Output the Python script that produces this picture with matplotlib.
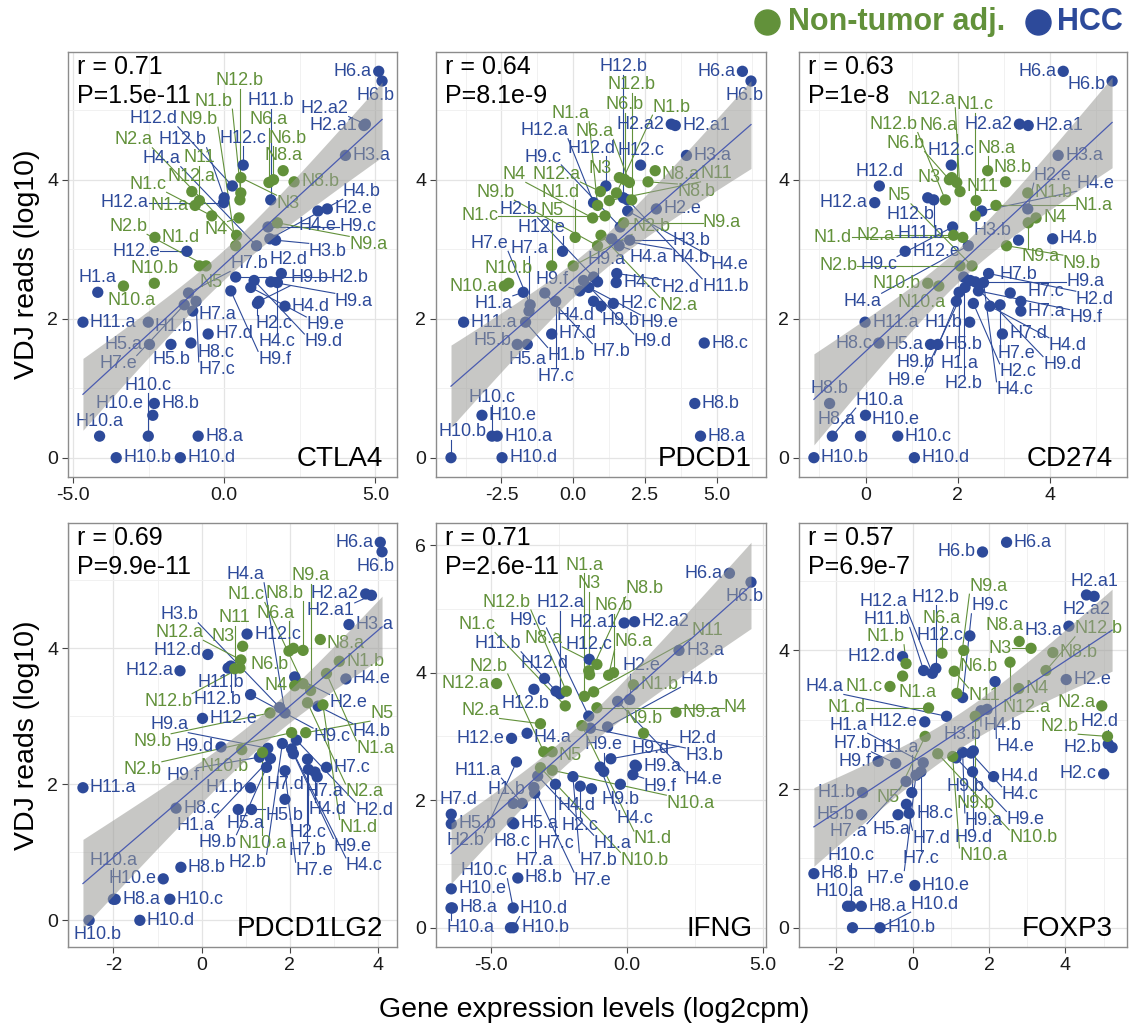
import numpy as np
import matplotlib
matplotlib.use('Agg')
import matplotlib.pyplot as plt
from matplotlib.lines import Line2D

plt.rcParams['font.family'] = ['Liberation Sans', 'DejaVu Sans']
plt.rcParams['axes.unicode_minus'] = False

# samples (HCC = H*, non-tumor adjacent = N*)
samples = ['H1.a', 'H1.b', 'H2.a1', 'H2.a2', 'H2.b', 'H2.c', 'H2.d', 'H2.e', 'H3.a', 'H3.b',
           'H4.a', 'H4.b', 'H4.c', 'H4.d', 'H4.e', 'H5.a', 'H5.b', 'H6.a', 'H6.b', 'H7.a',
           'H7.b', 'H7.c', 'H7.d', 'H7.e', 'H8.a', 'H8.b', 'H8.c', 'H9.a', 'H9.b', 'H9.c',
           'H9.d', 'H9.e', 'H9.f', 'H10.a', 'H10.b', 'H10.c', 'H10.d', 'H10.e', 'H11.a', 'H11.b',
           'H12.a', 'H12.b', 'H12.c', 'H12.d', 'H12.e',
           'N1.a', 'N1.b', 'N1.c', 'N1.d', 'N2.a', 'N2.b', 'N3', 'N4', 'N5', 'N6.a',
           'N6.b', 'N8.a', 'N8.b', 'N9.a', 'N9.b', 'N10.a', 'N10.b', 'N11', 'N12.a', 'N12.b']

# VDJ reads (log10), same for every gene
vdj = [2.38, 1.95, 4.78, 4.80, 2.60, 2.22, 2.65, 3.58, 4.35, 3.13,
       3.05, 3.15, 2.52, 2.18, 3.55, 1.63, 1.63, 5.56, 5.42, 2.11,
       2.37, 2.25, 1.78, 2.20, 0.31, 0.78, 1.65, 2.53, 2.25, 3.32,
       2.55, 2.45, 2.40, 0.31, 0.00, 0.31, 0.00, 0.61, 1.95, 3.71,
       3.67, 3.74, 4.21, 3.91, 2.97,
       3.63, 3.81, 3.48, 3.17, 3.20, 2.76, 4.03, 3.45, 2.76, 3.96,
       4.00, 4.13, 3.97, 3.38, 3.05, 2.47, 2.51, 3.70, 3.83, 3.71]

# gene expression levels (log2cpm)
ctla4 = [-4.18, -2.51, 4.62, 4.67, 0.38, 1.10, 1.89, 3.41, 4.01, 1.70,
         1.07, 1.51, 1.76, 2.01, 3.10, -2.47, -1.76, 5.11, 5.22, -1.04,
         -1.18, -0.93, -0.53, -1.32, -0.86, -2.31, -1.10, 1.54, 1.15, 1.45,
         0.99, 0.88, 0.22, -4.12, -3.57, -2.51, -1.45, -2.36, -4.67, 1.54,
         -0.02, 0.00, 0.63, 0.27, -1.23,
         -0.96, 0.55, -0.41, -2.29, 0.41, -0.60, 0.55, 0.49, -0.82, 1.48,
         1.63, 1.95, 2.31, 1.76, 0.38, -3.33, -2.31, -0.82, -1.07, 0.52]
pdcd1 = [-1.74, -1.66, 3.56, 3.42, 0.71, 1.40, 1.52, 2.90, 3.95, 1.97,
         1.60, 1.34, 1.50, 0.97, 1.90, -1.60, -1.95, 5.90, 6.20, -1.54,
         -0.99, -0.61, -0.75, -1.50, 4.44, 4.24, 4.57, 0.85, 0.71, 1.64,
         0.36, 0.54, 0.23, -2.65, -4.26, -2.83, -2.48, -3.18, -3.82, 1.90,
         0.71, 1.75, 2.35, 1.14, -0.37,
         0.85, 1.51, 1.11, 0.07, 0.97, 0.00, 1.61, 0.68, -0.75, 1.96,
         1.80, 2.86, 2.61, 1.76, 0.85, -2.40, -2.25, 1.26, 0.95, 2.04]
cd274 = [2.03, 2.26, 3.53, 3.34, 2.13, 2.34, 2.67, 3.52, 4.18, 3.32,
         2.23, 4.06, 2.56, 2.70, 2.52, 1.41, 1.57, 4.29, 5.35, 3.37,
         3.14, 3.37, 2.97, 2.92, -0.11, -0.78, 0.29, 2.38, 1.97, 1.89,
         2.27, 2.16, 2.45, -0.72, -1.12, 0.70, 1.06, 0.00, -0.01, 1.48,
         0.20, 1.35, 1.86, 0.30, 0.86,
         2.83, 3.52, 2.38, 2.11, 1.91, 2.05, 1.87, 3.70, 2.31, 1.98,
         1.82, 2.65, 3.04, 3.53, 3.06, 1.59, 1.35, 2.40, 2.05, 1.73]
pdcd1lg2 = [1.56, 1.11, 3.85, 3.72, 1.83, 2.42, 2.15, 2.11, 3.34, 1.77,
            1.89, 2.64, 2.04, 2.57, 3.27, 0.83, 1.13, 4.05, 4.09, 2.62,
            2.40, 2.83, 1.89, 1.89, -1.96, -0.47, -0.58, 1.50, 1.47, 1.11,
            0.44, 2.08, 1.31, -2.00, -2.55, -0.72, -1.40, -0.87, -2.69, 0.60,
            -0.49, 0.66, 1.03, 0.14, 0.02,
            2.83, 3.12, 2.30, 2.75, 2.40, 2.04, 0.93, 2.11, 2.36, 1.98,
            2.08, 2.69, 2.30, 2.47, 1.55, 1.38, 0.91, 0.75, 0.89, 0.87]
ifng = [-3.27, -4.17, -0.10, 0.28, -4.05, -1.71, -0.59, 0.10, 1.91, -1.34,
        -3.66, -0.71, -0.98, -1.30, -0.34, -4.15, -6.44, 3.76, 4.55, -3.38,
        -1.98, -2.62, -6.44, -3.41, -6.40, -4.00, -4.20, 0.35, -0.24, -1.40,
        0.30, -0.85, 0.22, -6.45, -4.27, -4.17, -4.17, -6.44, -3.84, -2.60,
        -2.45, -3.41, -1.38, -3.02, -4.23,
        -1.56, 0.24, -2.26, -1.65, -3.17, -3.05, -1.40, -1.10, -2.74, -0.67,
        -0.49, -1.10, -1.37, 1.80, 0.61, -2.74, -3.17, -1.22, -4.78, -2.22]
foxp3 = [0.28, -1.31, 4.75, 4.55, 5.22, 5.00, 5.12, 4.02, 4.09, 1.79,
         0.89, 1.95, 1.53, 2.12, 2.16, -0.38, -1.33, 2.46, 1.83, -0.17,
         -0.44, 0.22, -0.16, 0.09, -1.34, -2.58, -0.09, 1.31, 1.57, 1.31,
         1.59, 1.14, -0.90, -1.70, -1.57, -1.62, -0.85, 0.06, -0.02, 0.29,
         0.52, 0.61, 1.50, -0.26, 0.32,
         -0.26, -0.17, -0.59, 0.42, 4.95, 5.10, 3.10, 2.78, 0.33, 0.77,
         1.34, 2.79, 3.67, 1.16, 1.64, 1.05, 0.66, 1.09, 2.55, 3.49]

genes = ['CTLA4', 'PDCD1', 'CD274', 'PDCD1LG2', 'IFNG', 'FOXP3']
r_vals = ['0.71', '0.64', '0.63', '0.69', '0.71', '0.57']
p_vals = ['1.5e-11', '8.1e-9', '1e-8', '9.9e-11', '2.6e-11', '6.9e-7']
expr = [ctla4, pdcd1, cd274, pdcd1lg2, ifng, foxp3]

GREEN = '#62913a'
BLUE = '#2d4a9a'
W, H = 1129, 1028
LABEL_FS = 13


def lm_band(x, y):
    n = len(x)
    b, a = np.polyfit(x, y, 1)
    xg = np.linspace(x.min(), x.max(), 80)
    yg = a + b * xg
    s = np.sqrt(((y - (a + b * x)) ** 2).sum() / (n - 2))
    sxx = ((x - x.mean()) ** 2).sum()
    se = s * np.sqrt(1 / n + (xg - x.mean()) ** 2 / sxx)
    return xg, yg, yg - 1.998 * se, yg + 1.998 * se


def place_labels(ax, xs, ys, texts, fs, blocked):
    # greedy label placement: nearest free spot around each point
    fig = ax.figure
    rend = fig.canvas.get_renderer()
    pts = ax.transData.transform(np.column_stack([xs, ys]))
    px, py = pts[:, 0], pts[:, 1]
    n = len(texts)
    w = np.zeros(n)
    h = np.zeros(n)
    for i, s in enumerate(texts):
        t = fig.text(0, 0, s, fontsize=fs)
        bb = t.get_window_extent(rend)
        w[i], h[i] = bb.width, bb.height * 0.93
        t.remove()
    box = ax.get_window_extent(rend)
    angs = np.deg2rad([0, 180, 90, 270, 30, 150, 210, 330, 60, 120, 240, 300,
                       15, 165, 195, 345, 45, 135, 225, 315, 75, 105, 255, 285])
    ds = np.arange(0, 420, 4)
    D, A = np.meshgrid(ds, angs, indexing='ij')
    D, A = D.ravel(), A.ravel()
    rpt = 5.5
    dist = np.hypot(px[:, None] - px[None, :], py[:, None] - py[None, :])
    crowd = (dist < 45).sum(1)
    order = np.lexsort((np.arange(n), crowd))
    placed = [list(b) for b in blocked]
    cx = np.zeros(n)
    cy = np.zeros(n)
    for i in order:
        ccx = px[i] + np.cos(A) * (w[i] / 2 + 7 + D)
        ccy = py[i] + np.sin(A) * (h[i] / 2 + 7 + D)
        inside = ((ccx - w[i] / 2 > box.x0 + 2) & (ccx + w[i] / 2 < box.x1 - 2) &
                  (ccy - h[i] / 2 > box.y0 + 2) & (ccy + h[i] / 2 < box.y1 - 2))
        pb = np.array(placed)
        hit = ((ccx[:, None] + w[i] / 2 + 1 > pb[None, :, 0]) &
               (ccx[:, None] - w[i] / 2 - 1 < pb[None, :, 1]) &
               (ccy[:, None] + h[i] / 2 + 1 > pb[None, :, 2]) &
               (ccy[:, None] - h[i] / 2 - 1 < pb[None, :, 3])).sum(1)
        hitp = ((np.abs(ccx[:, None] - px[None, :]) < w[i] / 2 + rpt) &
                (np.abs(ccy[:, None] - py[None, :]) < h[i] / 2 + rpt)).sum(1)
        cost = hit * 1000 + hitp * 50 + (~inside) * 100000 + np.arange(len(D)) * 1e-3
        j = np.argmin(cost)
        cx[i], cy[i] = ccx[j], ccy[j]
        placed.append([cx[i] - w[i] / 2, cx[i] + w[i] / 2, cy[i] - h[i] / 2, cy[i] + h[i] / 2])
    return px, py, cx, cy, w, h


fig = plt.figure(figsize=(W / 100, H / 100), dpi=100)
cols_px = [(68, 397), (436, 766), (799, 1127)]
rows_px = [(52, 477), (523, 947)]
xticks = [[-5, 0, 5], [-2.5, 0, 2.5, 5], [0, 2, 4], [-2, 0, 2, 4], [-5, 0, 5], [-2, 0, 2, 4]]
xfmt = ['%.1f', '%.1f', '%d', '%d', '%.1f', '%d']

yv = np.array(vdj)
is_h = np.array([s.startswith('H') for s in samples])
colors = np.where(is_h, BLUE, GREEN)
rend = fig.canvas.get_renderer()

for g in range(6):
    r, c = divmod(g, 3)
    x0, x1 = cols_px[c]
    y0, y1 = rows_px[r]
    ax = fig.add_axes([x0 / W, 1 - y1 / H, (x1 - x0) / W, (y1 - y0) / H])
    xv = np.array(expr[g])
    xg, yg, lo, hi = lm_band(xv, yv)
    xr = xv.max() - xv.min()
    xlim = (xv.min() - 0.05 * xr, xv.max() + 0.05 * xr)
    ymin = min(yv.min(), lo.min())
    ymax = max(yv.max(), hi.max())
    yr = ymax - ymin
    ylim = (ymin - 0.05 * yr, ymax + 0.05 * yr)

    xt = xticks[g]
    step = xt[1] - xt[0]
    ax.set_xticks(xt)
    ax.set_xticklabels([xfmt[g] % v for v in xt])
    ax.set_xticks([v - step / 2 for v in xt] + [xt[-1] + step / 2], minor=True)
    yt = [v for v in [0, 2, 4, 6] if v <= ylim[1]]
    ax.set_yticks(yt)
    ax.set_yticks([v + 1 for v in yt] + [-1], minor=True)
    ax.set_xlim(*xlim)
    ax.set_ylim(*ylim)
    ax.grid(True, which='major', color='#e4e4e4', lw=0.9)
    ax.grid(True, which='minor', color='#f1f1f1', lw=0.7)
    ax.set_axisbelow(True)
    ax.tick_params(which='major', direction='out', length=4, width=0.8, color='#444444',
                   labelsize=14, labelcolor='#1a1a1a', pad=3)
    ax.tick_params(which='minor', length=0)
    for sp in ax.spines.values():
        sp.set_color('#8c8c8c')
        sp.set_linewidth(1.0)

    t1 = ax.text(0.026, 0.993, 'r = ' + r_vals[g], transform=ax.transAxes, fontsize=18,
                 va='top', ha='left', zorder=6)
    t2 = ax.text(0.026, 0.925, 'P=' + p_vals[g], transform=ax.transAxes, fontsize=18,
                 va='top', ha='left', zorder=6)
    t3 = ax.text(0.958, 0.025, genes[g], transform=ax.transAxes, fontsize=20,
                 va='baseline', ha='right', zorder=6)
    blocked = []
    for t in (t1, t2, t3):
        bb = t.get_window_extent(rend)
        blocked.append([bb.x0, bb.x1, bb.y0, bb.y1])

    ax.scatter(xv, yv, s=66, c=colors, linewidths=0, zorder=3)
    px, py, cx, cy, w, h = place_labels(ax, xv, yv, samples, LABEL_FS, blocked)
    inv = ax.transData.inverted()
    for i, name in enumerate(samples):
        qx = np.clip(px[i], cx[i] - w[i] / 2, cx[i] + w[i] / 2)
        qy = np.clip(py[i], cy[i] - h[i] / 2, cy[i] + h[i] / 2)
        if np.hypot(qx - px[i], qy - py[i]) > 11:
            a = inv.transform([px[i], py[i]])
            b = inv.transform([qx, qy])
            ax.plot([a[0], b[0]], [a[1], b[1]], color=colors[i], lw=0.8, zorder=2)
        tx, ty = inv.transform([cx[i], cy[i]])
        ax.text(tx, ty, name, color=colors[i], fontsize=LABEL_FS, ha='center', va='center',
                zorder=3)

    ax.fill_between(xg, lo, hi, color='#9a9a96', alpha=0.55, lw=0, zorder=4)
    ax.plot(xg, yg, color='#4a5bb0', lw=0.9, zorder=5)

for yc in [(52 + 477) / 2, (523 + 947) / 2]:
    fig.text(27 / W, 1 - yc / H, 'VDJ reads (log10)', rotation=90, fontsize=20.5,
             ha='center', va='center')
fig.text(594 / W, 1 - 1010 / H, 'Gene expression levels (log2cpm)', fontsize=20.5,
         ha='center', va='center')

# legend
fig.add_artist(Line2D([766.7 / W], [1 - 21.7 / H], marker='o', markersize=18, color=GREEN,
                      linestyle='none', transform=fig.transFigure))
fig.text(788 / W, 1 - 21.7 / H, 'Non-tumor adj.', color=GREEN, fontsize=22,
         fontweight='bold', ha='left', va='center')
fig.add_artist(Line2D([1038 / W], [1 - 21.7 / H], marker='o', markersize=18, color=BLUE,
                      linestyle='none', transform=fig.transFigure))
fig.text(1057 / W, 1 - 21.7 / H, 'HCC', color=BLUE, fontsize=22,
         fontweight='bold', ha='left', va='center')

fig.savefig('out.png', dpi=100)
